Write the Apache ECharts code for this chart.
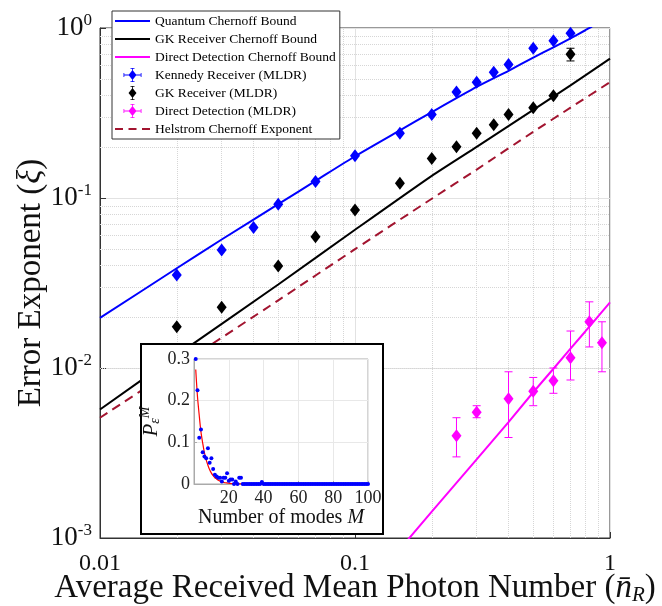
<!DOCTYPE html>
<html><head><meta charset="utf-8">
<script src="https://cdn.jsdelivr.net/npm/echarts@6/dist/echarts.min.js"></script>
<style>html,body{margin:0;padding:0;background:#fff}#c{width:662px;height:606px}</style>
</head><body><div id="c"></div>
<script>
// ---------- main chart data ----------
const xTickLabels = ['0.01', '0.1', '1'];
const yTickExps = ['-3', '-2', '-1', '0'];

const qcbN  = [0.01, 0.02, 0.03, 0.05, 0.07, 0.1, 0.15, 0.2, 0.3, 0.4, 0.5, 0.6, 0.7, 0.8, 0.85];
const qcbXi = [0.0197, 0.0386, 0.057, 0.092, 0.126, 0.176, 0.25, 0.32, 0.45, 0.56, 0.67, 0.77, 0.87, 0.97, 1.02];

const gkbN  = [0.01, 0.02, 0.05, 0.1, 0.2, 0.3, 0.5, 0.7, 1.0];
const gkbXi = [0.0057, 0.0119, 0.031, 0.065, 0.135, 0.20, 0.33, 0.46, 0.66];

const ddbN  = [0.15, 0.2, 0.3, 0.4, 0.5, 0.6, 0.7, 0.8, 0.9, 1.0];
const ddbXi = [0.00086, 0.00143, 0.0029, 0.0048, 0.0072, 0.0099, 0.013, 0.0164, 0.0202, 0.0243];

const helN  = [0.01, 0.02, 0.05, 0.1, 0.2, 0.3, 0.5, 0.7, 1.0];
const helXi = [0.0051, 0.0101, 0.025, 0.05, 0.099, 0.147, 0.245, 0.34, 0.48];

const kenN  = [0.02, 0.03, 0.04, 0.05, 0.07, 0.1, 0.15, 0.2, 0.25, 0.3, 0.35, 0.4, 0.5, 0.6, 0.7];
const kenXi = [0.0352, 0.0494, 0.067, 0.092, 0.125, 0.177, 0.24, 0.31, 0.42, 0.48, 0.55, 0.61, 0.76, 0.84, 0.93];

const gkN   = [0.02, 0.03, 0.05, 0.07, 0.1, 0.15, 0.2, 0.25, 0.3, 0.35, 0.4, 0.5, 0.6, 0.7];
const gkXi  = [0.0175, 0.0228, 0.0398, 0.0592, 0.085, 0.122, 0.171, 0.2, 0.24, 0.27, 0.31, 0.34, 0.40, 0.70];
const gkErrN  = [0.7];
const gkErrLo = [0.64];
const gkErrHi = [0.76];

const ddN   = [0.25, 0.3, 0.4, 0.5, 0.6, 0.7, 0.83, 0.93];
const ddXi  = [0.0040, 0.0055, 0.0066, 0.0073, 0.0084, 0.0115, 0.0187, 0.0141];
const ddLo  = [0.0030, 0.0051, 0.0039, 0.0060, 0.0071, 0.0085, 0.0133, 0.0095];
const ddHi  = [0.0051, 0.0060, 0.0095, 0.0088, 0.0100, 0.0165, 0.0245, 0.0187];

// ---------- inset data ----------
const insetM  = [];
for (let m = 1; m <= 100; m++) insetM.push(m);
const insetPe = [0.30,0.225,0.111,0.131,0.076,0.066,0.062,0.086,0.051,0.062,
                 0.036,0.022,0.018,0.015,0.015,0.006,0.015,0.015,0.026,0.008,
                 0.011,0.011,0,0.006,0,0.015,0.015,0,0,0,
                 0,0,0,0,0,0,0,0,0.005,0,
                 0,0,0,0,0,0,0,0,0,0, 0,0,0,0,0,0,0,0,0,0,
                 0,0,0,0,0,0,0,0,0,0, 0,0,0,0,0,0,0,0,0,0,
                 0,0,0,0,0,0,0,0,0,0, 0,0,0,0,0,0,0,0,0,0];
const fitM  = [1,2,3,4,5,6,7,8,9,10,11,12,13,14,15,16,17,18,19,20,22,25,30,40,100];
const fitPe = [0.275,0.21,0.165,0.125,0.098,0.075,0.058,0.045,0.034,0.026,0.02,0.015,0.012,0.009,0.007,0.005,0.004,0.003,0.0025,0.002,0.001,0.0005,0.0002,0,0];

const yMinorVals = [];
[0.001, 0.01, 0.1].forEach(d => { for (let k = 2; k <= 9; k++) yMinorVals.push(+(k*d).toPrecision(3)); });
const xMinorVals = [];
[0.01, 0.1].forEach(d => { for (let k = 2; k <= 9; k++) xMinorVals.push(+(k*d).toPrecision(3)); });

const zip = (a, b) => a.map((v, i) => [v, b[i]]);
const FONT = 'Liberation Serif';

function errBarV(color, capW) {
  return function (params, api) {
    const x = api.value(0), lo = api.value(1), hi = api.value(2);
    const pLo = api.coord([x, lo]), pHi = api.coord([x, hi]);
    const st = { stroke: color, lineWidth: 1 };
    return { type: 'group', children: [
      { type: 'line', shape: { x1: pLo[0], y1: pLo[1], x2: pHi[0], y2: pHi[1] }, style: st },
      { type: 'line', shape: { x1: pLo[0]-capW, y1: pLo[1], x2: pLo[0]+capW, y2: pLo[1] }, style: st },
      { type: 'line', shape: { x1: pHi[0]-capW, y1: pHi[1], x2: pHi[0]+capW, y2: pHi[1] }, style: st }
    ]};
  };
}

const iconLine = 'path://M0,0 L35,0 L35,2 L0,2 Z';
const iconDash = 'path://M0,0 L8,0 L8,2 L0,2 Z M13.5,0 L21.5,0 L21.5,2 L13.5,2 Z M27,0 L35,0 L35,2 L27,2 Z';
const iconKen = 'path://M9,2 L13,7 L9,12 L5,7 Z M8.6,0 L9.4,0 L9.4,14 L8.6,14 Z M7,0 L11,0 L11,0.8 L7,0.8 Z M7,13.2 L11,13.2 L11,14 L7,14 Z M0,6.6 L18,6.6 L18,7.4 L0,7.4 Z M0,5 L0.8,5 L0.8,9 L0,9 Z M17.2,5 L18,5 L18,9 L17.2,9 Z';
const iconGK  = 'path://M9,2 L13,7 L9,12 L5,7 Z M8.6,0 L9.4,0 L9.4,14 L8.6,14 Z M7,0 L11,0 L11,0.8 L7,0.8 Z M7,13.2 L11,13.2 L11,14 L7,14 Z';

const chart = echarts.init(document.getElementById('c'), null, { renderer: 'canvas' });
const option = {
  animation: false,
  backgroundColor: '#fff',
  textStyle: { fontFamily: FONT },
  grid: [
    { left: 100, right: 52, top: 28, bottom: 68, show: true, borderColor: '#333', borderWidth: 1,
      backgroundColor: 'transparent', outerBoundsMode: 'none', containLabel: false },
    { left: 194, top: 359, width: 174, height: 125, show: true, borderColor: '#aaa', borderWidth: 1, z: 10,
      outerBoundsMode: 'none', containLabel: false }
  ],
  legend: {
    orient: 'vertical', left: 112, top: 11, itemWidth: 35, itemHeight: 14, itemGap: 4,
    backgroundColor: '#fff', borderColor: '#333', borderWidth: 1, padding: [3, 4, 3, 3],
    textStyle: { fontFamily: FONT, fontSize: 13.5, color: '#000' },
    z: 20,
    data: [
      { name: 'Quantum Chernoff Bound', icon: iconLine },
      { name: 'GK Receiver Chernoff Bound', icon: iconLine },
      { name: 'Direct Detection Chernoff Bound', icon: iconLine },
      { name: 'Kennedy Receiver (MLDR)', icon: iconKen },
      { name: 'GK Receiver (MLDR)', icon: iconGK },
      { name: 'Direct Detection (MLDR)', icon: iconKen },
      { name: 'Helstrom Chernoff Exponent', icon: iconDash }
    ]
  },
  xAxis: [
    { type: 'log', logBase: 10, min: 0.01, max: 1, gridIndex: 0,
      axisLine: { lineStyle: { color: '#333' } },
      axisTick: { inside: true, length: 6, lineStyle: { color: '#333' } },
      splitLine: { show: true, lineStyle: { color: '#e2e2e2', width: 1 } },
      axisLabel: { margin: 14, fontSize: 24, color: '#111', fontFamily: FONT,
        formatter: (v, i) => xTickLabels[i] },
      name: '{a|Average Received Mean Photon Number (}{i|n\u0304}{s|R}{a|)}',
      nameLocation: 'middle', nameGap: 33, nameMoveOverlap: false,
      nameTextStyle: { rich: {
        a: { fontSize: 33, fontFamily: FONT, color: '#111' },
        i: { fontSize: 33, fontFamily: FONT, fontStyle: 'italic', color: '#111' },
        s: { fontSize: 21, fontFamily: FONT, fontStyle: 'italic', color: '#111', padding: [14, 0, 0, 0] }
      } }
    },
    { type: 'value', gridIndex: 1, min: 0, max: 100, interval: 20, z: 10,
      axisLine: { lineStyle: { color: '#aaa' } },
      axisTick: { inside: true, length: 3, lineStyle: { color: '#aaa' } },
      splitLine: { show: true, lineStyle: { color: '#e8e8e8' } },
      axisLabel: { fontSize: 18, color: '#222', margin: 5, fontFamily: FONT,
        formatter: v => (v === 0 ? '' : String(v)) },
      name: '{a|Number of modes }{i|M}', nameLocation: 'middle', nameGap: 24, nameMoveOverlap: false,
      nameTextStyle: { rich: {
        a: { fontSize: 20, fontFamily: FONT, color: '#111' },
        i: { fontSize: 20, fontFamily: FONT, fontStyle: 'italic', color: '#111' }
      } }
    }
  ],
  yAxis: [
    { type: 'log', logBase: 10, min: 0.001, max: 1, gridIndex: 0,
      axisLine: { lineStyle: { color: '#333' } },
      axisTick: { inside: true, length: 6, lineStyle: { color: '#333' } },
      splitLine: { show: true, lineStyle: { color: '#e2e2e2', width: 1 } },
      axisLabel: { margin: 8, color: '#111', fontFamily: FONT,
        formatter: (v, i) => '{b|10}{s|' + yTickExps[i] + '}',
        rich: {
          b: { fontSize: 27, fontFamily: FONT, color: '#111' },
          s: { fontSize: 17, fontFamily: FONT, color: '#111', padding: [0, 0, 15, 0] }
        } },
      name: '{a|Error Exponent (}{i|\u03BE}{a|)}',
      nameLocation: 'middle', nameGap: 52, nameMoveOverlap: false,
      nameTextStyle: { rich: {
        a: { fontSize: 33, fontFamily: FONT, color: '#111' },
        i: { fontSize: 33, fontFamily: FONT, fontStyle: 'italic', color: '#111' }
      } }
    },
    { type: 'value', gridIndex: 1, min: 0, max: 0.3, interval: 0.1, z: 10,
      axisLine: { lineStyle: { color: '#aaa' } },
      axisTick: { inside: true, length: 3, lineStyle: { color: '#aaa' } },
      splitLine: { show: true, lineStyle: { color: '#e8e8e8' } },
      axisLabel: { fontSize: 18, color: '#222', margin: 4, fontFamily: FONT,
        formatter: v => (v === 0 ? '0' : v.toFixed(1)) },
      name: '{i|P}{sub|\u03B5}{sup|M}', nameLocation: 'middle', nameGap: 30, nameMoveOverlap: false,
      nameTextStyle: { rich: {
        i: { fontSize: 21, fontFamily: FONT, fontStyle: 'italic', color: '#111' },
        sub: { fontSize: 14, fontFamily: FONT, fontStyle: 'italic', color: '#111', padding: [9, 0, 0, 0] },
        sup: { fontSize: 14, fontFamily: FONT, fontStyle: 'italic', color: '#111', padding: [0, 0, 12, 0] }
      } }
    }
  ],
  graphic: [
    { type: 'rect', z: 5, shape: { x: 141, y: 344, width: 242, height: 190 },
      style: { fill: '#fff', stroke: '#000', lineWidth: 2 } }
  ],
  series: [
    { name: 'minorgrid', type: 'line', data: [], xAxisIndex: 0, yAxisIndex: 0, silent: true, z: 1,
      markLine: { silent: true, z: 1, symbol: ['none', 'none'], label: { show: false },
        lineStyle: { color: '#d6d6d6', type: 'dotted', width: 1 },
        emphasis: { disabled: true },
        data: yMinorVals.map(v => ({ yAxis: v })).concat(xMinorVals.map(v => ({ xAxis: v }))) } },
    { name: 'Quantum Chernoff Bound', type: 'line', data: zip(qcbN, qcbXi), symbol: 'none', smooth: 0.2,
      lineStyle: { color: '#0000ff', width: 2 }, itemStyle: { color: '#0000ff' }, z: 3 },
    { name: 'GK Receiver Chernoff Bound', type: 'line', data: zip(gkbN, gkbXi), symbol: 'none', smooth: 0.2,
      lineStyle: { color: '#000', width: 2 }, itemStyle: { color: '#000' }, z: 3 },
    { name: 'Direct Detection Chernoff Bound', type: 'line', data: zip(ddbN, ddbXi), symbol: 'none', smooth: false,
      lineStyle: { color: '#ff00ff', width: 2 }, itemStyle: { color: '#ff00ff' }, z: 3 },
    { name: 'Helstrom Chernoff Exponent', type: 'line', data: zip(helN, helXi), symbol: 'none', smooth: 0.2,
      lineStyle: { color: '#a2142f', width: 2, type: [9, 6] }, itemStyle: { color: '#a2142f' }, z: 3 },
    { name: 'gkErr', type: 'custom', renderItem: errBarV('#000', 4), data: gkErrN.map((n, i) => [n, gkErrLo[i], gkErrHi[i]]), z: 4, silent: true },
    { name: 'ddErr', type: 'custom', renderItem: errBarV('#ff00ff', 4), data: ddN.map((n, i) => [n, ddLo[i], ddHi[i]]), z: 4, silent: true },
    { name: 'Kennedy Receiver (MLDR)', type: 'scatter', data: zip(kenN, kenXi), symbol: 'diamond', symbolSize: [10, 13],
      itemStyle: { color: '#0000ff', opacity: 1, borderWidth: 0 }, z: 4 },
    { name: 'GK Receiver (MLDR)', type: 'scatter', data: zip(gkN, gkXi), symbol: 'diamond', symbolSize: [10, 13],
      itemStyle: { color: '#000', opacity: 1, borderWidth: 0 }, z: 4 },
    { name: 'Direct Detection (MLDR)', type: 'scatter', data: zip(ddN, ddXi), symbol: 'diamond', symbolSize: [10, 13],
      itemStyle: { color: '#ff00ff', opacity: 1, borderWidth: 0 }, z: 4 },
    // inset
    { name: 'fit', type: 'line', xAxisIndex: 1, yAxisIndex: 1, data: zip(fitM, fitPe), symbol: 'none', smooth: 0.3,
      lineStyle: { color: '#ff0000', width: 1.2 }, z: 12 },
    { name: 'pe', type: 'scatter', xAxisIndex: 1, yAxisIndex: 1, data: zip(insetM, insetPe), symbol: 'circle', symbolSize: 4,
      itemStyle: { color: '#0000ff', opacity: 1 }, z: 13 }
  ]
};
chart.setOption(option);
</script>
</body></html>
